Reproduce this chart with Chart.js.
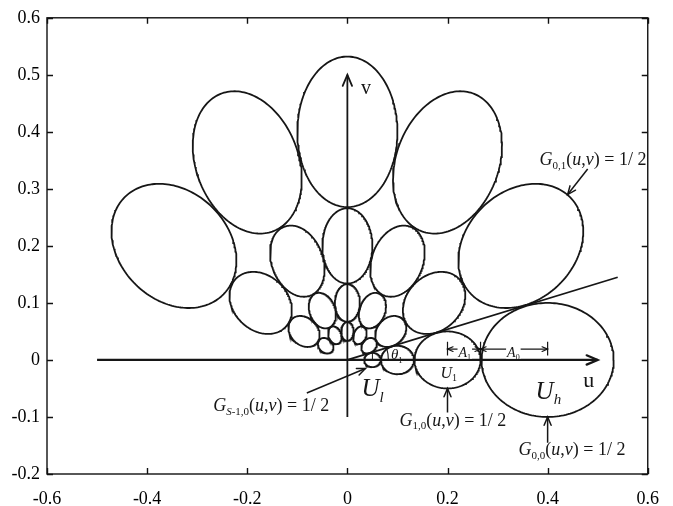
<!DOCTYPE html>
<html>
<head>
<meta charset="utf-8">
<script src="https://cdn.jsdelivr.net/npm/chart.js@4.4.1/dist/chart.umd.min.js"></script>
<style>
  html, body { margin: 0; padding: 0; background: #fff; }
</style>
</head>
<body>
<canvas id="bank" width="673" height="506"></canvas>
<script>
// Gabor filter bank half-peak contours in the (u,v) plane.
const scaleCenters = [0.4, 0.2, 0.1, 0.05];        // U_h ... U_l, radial centre of each scale
const radialSemi   = [0.132, 0.066, 0.033, 0.0165]; // half-peak semi-axis along the radius
const tangentSemi  = [0.1, 0.05, 0.025, 0.0125];    // half-peak semi-axis across the radius
const orientations = [0, 30, 60, 90, 120, 150];     // degrees

const xRange = [-0.6, 0.6];
const yRange = [-0.2, 0.6];

// straight marks, [[x0,y0],[x1,y1]] in data units
const uAxis = [[-0.5, 0], [0.5, 0]];
const vAxis = [[0, -0.1], [0, 0.5]];
const tangentLine = [[0, 0], [0.54, 0.145]];
const pointers = [
  [[0.48, 0.335], [0.44, 0.29]],     // G0,1
  [[0.4, -0.145], [0.4, -0.1]],      // G0,0
  [[0.2, -0.092], [0.2, -0.05]],     // G1,0
  [[-0.081, -0.058], [0.036, -0.015]] // GS-1,0
];
const dimY = 0.019;
const dimStops = [0.2, 0.266, 0.4];  // A1 between first two, A0 between last two

const ink = '#161616';
const serif = '"Liberation Serif", "DejaVu Serif", serif';
Chart.defaults.font.family = 'Liberation Serif';

function ellipseOutline(k, deg) {
  const th = deg * Math.PI / 180;
  const cx = scaleCenters[k] * Math.cos(th), cy = scaleCenters[k] * Math.sin(th);
  const a = radialSemi[k], b = tangentSemi[k];
  const pts = [];
  const n = 180;
  for (let i = 0; i <= n; i++) {
    const t = 2 * Math.PI * i / n;
    const ra = a * Math.cos(t), tb = b * Math.sin(t);
    pts.push({ x: cx + ra * Math.cos(th) - tb * Math.sin(th), y: cy + ra * Math.sin(th) + tb * Math.cos(th) });
  }
  return pts;
}

function seg(p, width, extra) {
  return Object.assign({
    data: p.map(q => ({ x: q[0], y: q[1] })),
    showLine: true, borderColor: ink, borderWidth: width,
    pointRadius: 0, fill: false, tension: 0
  }, extra || {});
}

const datasets = [];
scaleCenters.forEach((u, k) => {
  orientations.forEach(deg => {
    datasets.push({
      data: ellipseOutline(k, deg), showLine: true, borderColor: ink,
      borderWidth: 1.8, pointRadius: 0, fill: false, tension: 0
    });
  });
});
datasets.push(seg(uAxis, 2.2, { arrowEnd: 12 }));
datasets.push(seg(vAxis, 1.8, { arrowEnd: 12 }));
datasets.push(seg(tangentLine, 1.8));
pointers.forEach(p => datasets.push(seg(p, 1.5, { arrowEnd: 9 })));
datasets.push(seg([[dimStops[0], dimY], [dimStops[1], dimY]], 1.2, { arrowEnd: 6, arrowStart: 6 }));
datasets.push(seg([[dimStops[1], dimY], [dimStops[2], dimY]], 1.2, { arrowEnd: 6, arrowStart: 6 }));
dimStops.forEach(x => datasets.push(seg([[x, 0.008], [x, 0.032]], 1.2)));
datasets.push(seg([[scaleCenters[3], 0], [scaleCenters[3], 0.012]], 1)); // U_l marker

function gLabel(sub) {
  return [
    { t: 'G', it: 1 }, { t: sub, sub: 1 }, { t: '(' }, { t: 'u', it: 1 }, { t: ',' },
    { t: 'v', it: 1 }, { t: ') = 1/ 2' }
  ];
}
// text marks: anchor is left / baseline in data units
const textMarks = [
  { x: 0.384, y: 0.342, size: 18, segs: gLabel('0,1') },
  { x: 0.342, y: -0.167, size: 18, segs: gLabel('0,0') },
  { x: 0.104, y: -0.115, size: 18, segs: gLabel('1,0') },
  { x: -0.268, y: -0.090, size: 18, segs: [{ t: 'G', it: 1 }, { t: 'S', it: 1, sub: 1 }, { t: '-1,0', sub: 1 }, { t: '(' }, { t: 'u', it: 1 }, { t: ',' }, { t: 'v', it: 1 }, { t: ') = 1/ 2' }] },
  { x: 0.028, y: -0.064, size: 25, segs: [{ t: 'U', it: 1 }, { t: 'l', it: 1, sub: 1 }] },
  { x: 0.186, y: -0.031, size: 16, segs: [{ t: 'U', it: 1 }, { t: '1', sub: 1 }] },
  { x: 0.376, y: -0.068, size: 25, segs: [{ t: 'U', it: 1 }, { t: 'h', it: 1, sub: 1 }] },
  { x: 0.471, y: -0.047, size: 22, segs: [{ t: 'u' }] },
  { x: 0.027, y: 0.467, size: 20, segs: [{ t: 'v' }] },
  { x: 0.087, y: 0.001, size: 15, segs: [{ t: 'θ', it: 1 }, { t: '1', sub: 1 }] },
  { x: 0.222, y: 0.006, size: 14, segs: [{ t: 'A', it: 1 }, { t: '1', sub: 1 }], bg: 1 },
  { x: 0.319, y: 0.006, size: 14, segs: [{ t: 'A', it: 1 }, { t: '0', sub: 1 }], bg: 1 }
];

function drawRich(ctx, segs, x, y, size, bg) {
  const parts = segs.map(s => {
    const fs = s.sub ? Math.round(size * 0.6) : size;
    const font = (s.it ? 'italic ' : '') + fs + 'px ' + serif;
    ctx.font = font;
    return { s, font, w: ctx.measureText(s.t).width, dy: s.sub ? size * 0.22 : 0 };
  });
  if (bg) {
    const w = parts.reduce((m, p) => m + p.w, 0);
    ctx.fillStyle = '#fff';
    ctx.fillRect(x - 1, y - size * 0.75, w + 2, size * 0.9);
  }
  ctx.fillStyle = ink;
  let cx = x;
  parts.forEach(p => {
    ctx.font = p.font;
    ctx.fillText(p.s.t, cx, y + p.dy);
    cx += p.w;
  });
}

function head(ctx, from, to, len) {
  const ang = Math.atan2(to.y - from.y, to.x - from.x);
  const spread = 0.4;
  ctx.beginPath();
  ctx.moveTo(to.x - len * Math.cos(ang - spread), to.y - len * Math.sin(ang - spread));
  ctx.lineTo(to.x, to.y);
  ctx.lineTo(to.x - len * Math.cos(ang + spread), to.y - len * Math.sin(ang + spread));
  ctx.stroke();
}

const decor = {
  id: 'decor',
  afterDatasetsDraw(chart) {
    const ctx = chart.ctx;
    const xs = chart.scales.x, ys = chart.scales.y;
    const a = chart.chartArea;
    ctx.save();
    ctx.strokeStyle = ink;
    ctx.lineCap = 'round';
    // arrowheads
    chart.data.datasets.forEach((ds, i) => {
      if (!ds.arrowEnd && !ds.arrowStart) return;
      const pts = chart.getDatasetMeta(i).data;
      ctx.lineWidth = ds.borderWidth;
      if (ds.arrowEnd) head(ctx, pts[pts.length - 2], pts[pts.length - 1], ds.arrowEnd);
      if (ds.arrowStart) head(ctx, pts[1], pts[0], ds.arrowStart);
    });
    // angle arc for theta_1
    const o = { x: xs.getPixelForValue(0), y: ys.getPixelForValue(0) };
    const tp = { x: xs.getPixelForValue(tangentLine[1][0]), y: ys.getPixelForValue(tangentLine[1][1]) };
    const ang = Math.atan2(tp.y - o.y, tp.x - o.x);
    ctx.lineWidth = 1.1;
    ctx.beginPath();
    ctx.arc(o.x, o.y, 41, ang, 0);
    ctx.stroke();
    // text
    ctx.textBaseline = 'alphabetic';
    ctx.textAlign = 'left';
    textMarks.forEach(m => drawRich(ctx, m.segs, xs.getPixelForValue(m.x), ys.getPixelForValue(m.y), m.size, m.bg));
    // frame with inward ticks
    ctx.strokeStyle = '#111';
    ctx.lineWidth = 1.4;
    ctx.lineCap = 'butt';
    ctx.strokeRect(a.left, a.top, a.right - a.left, a.bottom - a.top);
    const tl = 6;
    ctx.beginPath();
    xs.ticks.forEach(t => {
      const px = Math.round(xs.getPixelForValue(t.value)) + 0.5;
      ctx.moveTo(px, a.bottom); ctx.lineTo(px, a.bottom - tl);
      ctx.moveTo(px, a.top); ctx.lineTo(px, a.top + tl);
    });
    ys.ticks.forEach(t => {
      const py = Math.round(ys.getPixelForValue(t.value)) + 0.5;
      ctx.moveTo(a.left, py); ctx.lineTo(a.left + tl, py);
      ctx.moveTo(a.right, py); ctx.lineTo(a.right - tl, py);
    });
    ctx.stroke();
    ctx.restore();
  }
};

function fmt(v) {
  const r = Math.round(v * 10) / 10;
  return r === 0 ? '0' : String(r);
}

new Chart(document.getElementById('bank'), {
  type: 'scatter',
  data: { datasets },
  options: {
    responsive: false,
    animation: false,
    devicePixelRatio: 1,
    layout: { padding: { top: 16, right: 25, left: 0, bottom: 0 } },
    plugins: { legend: { display: false }, tooltip: { enabled: false } },
    scales: {
      x: {
        type: 'linear', min: xRange[0], max: xRange[1],
        grid: { display: false, drawTicks: false }, border: { display: false },
        ticks: { stepSize: 0.2, color: '#000', padding: 14, maxRotation: 0,
                 font: { family: 'Liberation Serif', size: 18 }, callback: fmt },
        afterFit: s => { s.height = 32; }
      },
      y: {
        type: 'linear', min: yRange[0], max: yRange[1],
        grid: { display: false, drawTicks: false }, border: { display: false },
        ticks: { stepSize: 0.1, color: '#000', padding: 7,
                 font: { family: 'Liberation Serif', size: 18 }, callback: fmt },
        afterFit: s => { s.width = 47; }
      }
    }
  },
  plugins: [decor]
});
</script>
</body>
</html>
